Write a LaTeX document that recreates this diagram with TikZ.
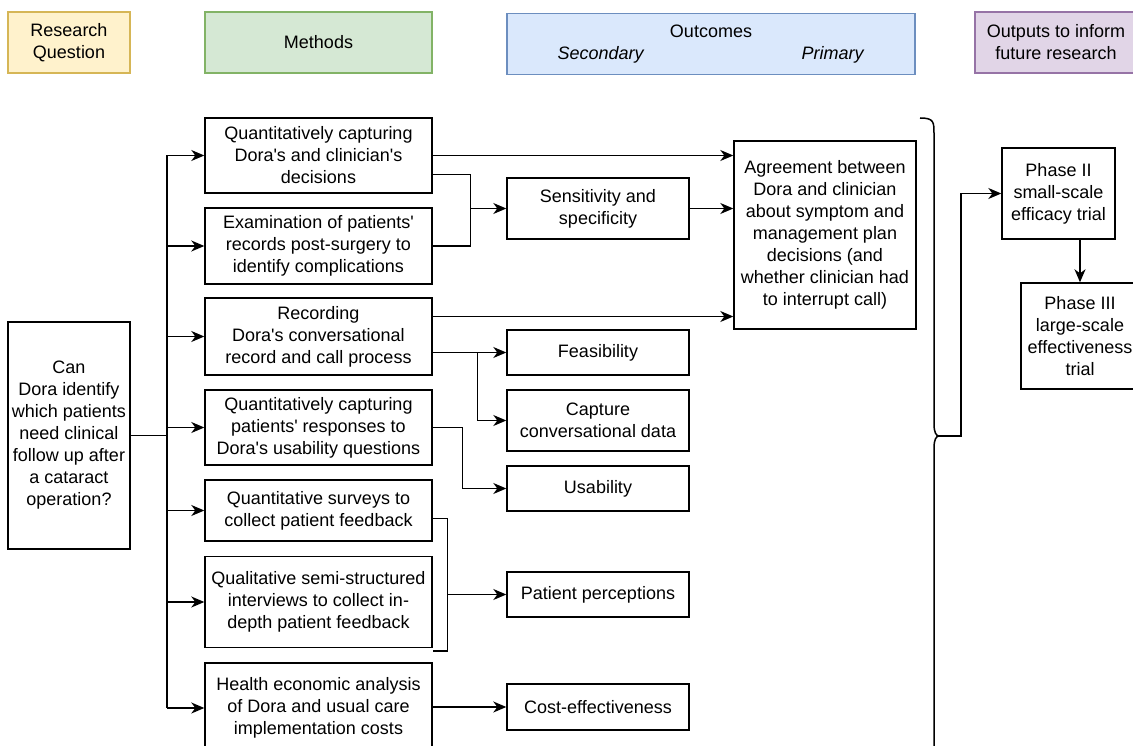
\documentclass[tikz,border=0pt]{standalone}
\usepackage{fontspec}
\setmainfont{Liberation Sans}[Ligatures=TeXOff]
\usepackage{xcolor}
\usetikzlibrary{arrows.meta}

\definecolor{rqfill}{HTML}{FFF2CC}
\definecolor{rqline}{HTML}{D6B656}
\definecolor{mhfill}{HTML}{D5E8D4}
\definecolor{mhline}{HTML}{82B366}
\definecolor{ocfill}{HTML}{DAE8FC}
\definecolor{ocline}{HTML}{6C8EBF}
\definecolor{opfill}{HTML}{E1D5E7}
\definecolor{opline}{HTML}{9673A6}

\begin{document}
\begin{tikzpicture}[
  x=1pt, y=-1pt,
  every node/.style={inner sep=2pt, align=center, font=\fontsize{18}{22}\selectfont},
  box/.style={draw, line width=1.4pt, minimum width=#1},
  box/.default=227pt,
  head/.style={draw=#1line, fill=#1fill, line width=1.6pt, minimum height=61pt},
  arr/.style={line width=1.5pt, -{Stealth[length=13pt, width=11pt, inset=4pt]}},
  con/.style={line width=1.5pt}
]
\useasboundingbox (0,0) rectangle (1133,746);
\clip (0,0) rectangle (1133,746);

% header row
\node[head=rq, minimum width=122pt] (rq) at (69,42.5) {Research\\Question};
\node[head=mh, minimum width=227pt] (mh) at (318.5,42.5) {Methods};
\node[head=oc, minimum width=408pt] (oc) at (711,44)
  {Outcomes\\\textit{Secondary}\hspace{157pt}\textit{Primary}};
\node[head=op, minimum width=162pt] (op) at (1056,42.5) {Outputs to inform\\future research};

% research question
\node[box=122pt, minimum height=227pt] (q) at (69,435.5)
  {Can\\Dora identify\\which patients\\need clinical\\follow up after\\a cataract\\operation?};

% methods
\node[box, minimum height=75pt] (m1) at (318.5,155.5) {Quantitatively capturing\\Dora's and clinician's\\decisions};
\node[box, minimum height=76pt] (m2) at (318.5,246) {Examination of patients'\\records post-surgery to\\identify complications};
\node[box, minimum height=77pt] (m3) at (318.5,336.5) {Recording\\Dora's conversational\\record and call process};
\node[box, minimum height=75pt] (m4) at (318.5,427.5) {Quantitatively capturing\\patients' responses to\\Dora's usability questions};
\node[box, minimum height=61pt] (m5) at (318.5,510.5) {Quantitative surveys to\\collect patient feedback};
\node[box, minimum height=91pt] (m6) at (318.5,602) {Qualitative semi-structured\\interviews to collect in-\\depth patient feedback};
\node[box, minimum height=90pt] (m7) at (318.5,708) {Health economic analysis\\of Dora and usual care\\implementation costs};

% outcomes
\node[box=182pt, minimum height=61pt] (se) at (598,208.5) {Sensitivity and\\specificity};
\node[box=182pt, minimum height=45pt] (fe) at (598,352.5) {Feasibility};
\node[box=182pt, minimum height=61pt] (cc) at (598,420.5) {Capture\\conversational data};
\node[box=182pt, minimum height=45pt] (us) at (598,488.5) {Usability};
\node[box=182pt, minimum height=45pt] (pp) at (598,594.5) {Patient perceptions};
\node[box=182pt, minimum height=46pt] (ce) at (598,707) {Cost-effectiveness};
\node[box=182pt, minimum height=188pt] (ag) at (825,235)
  {Agreement between\\Dora and clinician\\about symptom and\\management plan\\decisions (and\\whether clinician had\\to interrupt call)};

% outputs
\node[box=113pt, minimum height=91pt] (p2) at (1058.5,193.5) {Phase II\\small-scale\\efficacy trial};
\node[box=118pt, minimum height=106pt] (p3) at (1080,336) {Phase III\\large-scale\\effectiveness\\trial};

% research question to methods
\coordinate (bus) at (167,435.5);
\draw[con] (q.east) -- (bus);
\draw[con] (bus |- m1.west) -- (bus |- m7.west);
\foreach \m in {m1,m2,m3,m4,m5,m6,m7}
  \draw[arr] (bus |- \m.west) -- (\m.west);

% methods to outcomes
\draw[arr] (m1.east) -- (m1.east -| ag.west);
\draw[con] ([yshift=-19pt]m1.east) -| ([xshift=38pt]m2.east) -- (m2.east);
\draw[arr] ([xshift=38pt]m2.east |- se.west) -- (se.west);
\draw[arr] (se.east) -- (se.east -| ag.west);
\draw[arr] ([yshift=20pt]m3.east) -- ([yshift=20pt]m3.east -| ag.west);
\draw[arr] (m3.east |- fe.west) -- (fe.west);
\draw[arr] ([xshift=45pt]m3.east |- fe.west) |- (cc.west);
\draw[arr] (m4.east) -- ++(30,0) |- (us.west);
\draw[con] ([yshift=-8pt]m5.east) -| ([xshift=15pt,yshift=-3pt]m6.south east) -- ([yshift=-3pt]m6.south east);
\draw[arr] ([xshift=15pt]m6.east |- pp.west) -- (pp.west);
\draw[arr] (m7.east |- ce.west) -- (ce.west);

% brace and outputs
\coordinate (tip) at (939,436);
\draw[con] (920,118) .. controls (934,118) and (934,122) .. (934,134) -- (934,424)
  .. controls (934,432) and (936,436) .. (tip)
  .. controls (936,436) and (934,440) .. (934,448) -- (934,760);
\draw[arr] (tip) -- (961,436) |- (p2.west);
\draw[arr] (p3.north |- p2.south) -- (p3.north);
\end{tikzpicture}
\end{document}
